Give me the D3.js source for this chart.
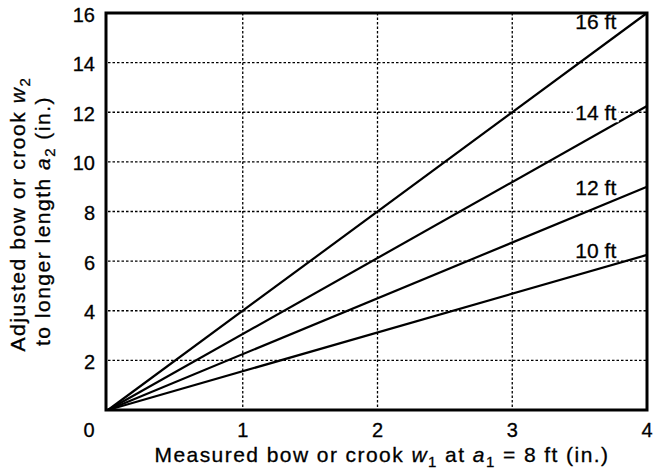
<!DOCTYPE html>
<html>
<head>
<meta charset="utf-8">
<script src="https://cdn.jsdelivr.net/npm/d3@7"></script>
<style>
  body { margin: 0; background: #fff; }
  text { font-family: "Liberation Sans", Arial, sans-serif; fill: #000; stroke: #000; stroke-width: 0.3px; }
</style>
</head>
<body>
<svg id="chart" width="654" height="475"></svg>
<script>
// values
const lengths = ["10 ft", "12 ft", "14 ft", "16 ft"];
const measured = [0, 4];                 // w1 (in.)
const adjusted = {                       // w2 (in.) at w1 = 0 and w1 = 4
  "10 ft": [0, 6.25],
  "12 ft": [0, 9],
  "14 ft": [0, 12.25],
  "16 ft": [0, 16],
};
const labelX = [3.62, 3.62, 3.62, 3.62];
const labelY = [6.42, 8.97, 12.0, 15.65];
const xTicks = [0, 1, 2, 3, 4];
const yTicks = [2, 4, 6, 8, 10, 12, 14, 16];

const svg = d3.select("#chart");
const margin = { top: 13, right: 7, bottom: 65, left: 108 };
const width = 654 - margin.left - margin.right;
const height = 475 - margin.top - margin.bottom;

const x = d3.scaleLinear().domain([0, 4]).range([0, width]);
const y = d3.scaleLinear().domain([0, 16]).range([height, 0]);

// spread text out to the width it has in the picture
function fitWidth(sel, target) {
  sel.each(function () {
    const n = this.textContent.length;
    const w = this.getComputedTextLength();
    d3.select(this).style("letter-spacing", ((target - w) / n) + "px");
  });
}

const g = svg.append("g").attr("transform", `translate(${margin.left},${margin.top})`);

// grid
g.selectAll(".vgrid")
  .data(xTicks.filter(d => d > 0 && d < 4))
  .join("line")
  .attr("x1", d => x(d)).attr("x2", d => x(d))
  .attr("y1", 0).attr("y2", height)
  .attr("stroke", "#000").attr("stroke-width", 1.3)
  .attr("stroke-dasharray", "2.5,2");

g.selectAll(".hgrid")
  .data(yTicks.filter(d => d < 16))
  .join("line")
  .attr("x1", 0).attr("x2", width)
  .attr("y1", d => y(d)).attr("y2", d => y(d))
  .attr("stroke", "#000").attr("stroke-width", 1.3)
  .attr("stroke-dasharray", "2.5,2");

// lines
const line = d3.line().x((d, i) => x(measured[i])).y(d => y(d));
g.selectAll(".series")
  .data(lengths)
  .join("path")
  .attr("d", d => line(adjusted[d]))
  .attr("fill", "none")
  .attr("stroke", "#000")
  .attr("stroke-width", 2.2);

// frame
g.append("rect")
  .attr("x", -2).attr("y", 0)
  .attr("width", width + 2).attr("height", height)
  .attr("fill", "none").attr("stroke", "#000").attr("stroke-width", 3);

// line labels, 14 ft knocks out the grid line
const lab = g.selectAll(".lab")
  .data(lengths)
  .join("g")
  .attr("transform", (d, i) => `translate(${x(labelX[i])},${y(labelY[i])})`);
lab.append("rect")
  .attr("x", -23).attr("y", -10).attr("width", 46).attr("height", 20)
  .attr("fill", "#fff")
  .attr("opacity", (d, i) => i === 2 ? 1 : 0);
lab.append("text")
  .attr("text-anchor", "middle")
  .attr("dy", "0.35em")
  .style("font-size", "21px")
  .text(d => d);

// tick labels
g.selectAll(".xt")
  .data(xTicks)
  .join("text")
  .attr("x", d => d === 0 ? x(d) - 19 : x(d))
  .attr("y", 437 - margin.top)
  .attr("text-anchor", "middle")
  .style("font-size", "20px")
  .text(d => d);

g.selectAll(".yt")
  .data(yTicks)
  .join("text")
  .attr("x", -13)
  .attr("y", d => y(d) + 1.5)
  .attr("dy", "0.35em")
  .attr("text-anchor", "end")
  .style("font-size", "20px")
  .text(d => d);

// x title
const xt = svg.append("text")
  .attr("x", 382)
  .attr("y", 462)
  .attr("text-anchor", "middle")
  .style("font-size", "21px");
xt.append("tspan").text("Measured bow or crook ");
xt.append("tspan").style("font-style", "italic").text("w");
xt.append("tspan").attr("dy", 5).style("font-size", "15px").text("1");
xt.append("tspan").attr("dy", -5).text(" at ");
xt.append("tspan").style("font-style", "italic").text("a");
xt.append("tspan").attr("dy", 5).style("font-size", "15px").text("1");
xt.append("tspan").attr("dy", -5).text(" = 8 ft (in.)");
xt.call(fitWidth, 455);

// y title
const y1 = svg.append("text")
  .attr("transform", "translate(25,214) rotate(-90)")
  .attr("text-anchor", "middle")
  .style("font-size", "21px");
y1.append("tspan").text("Adjusted bow or crook ");
y1.append("tspan").style("font-style", "italic").text("w");
y1.append("tspan").attr("dy", 5).style("font-size", "15px").text("2");
y1.call(fitWidth, 275);

const y2 = svg.append("text")
  .attr("transform", "translate(50,221) rotate(-90)")
  .attr("text-anchor", "middle")
  .style("font-size", "21px");
y2.append("tspan").text("to longer length ");
y2.append("tspan").style("font-style", "italic").text("a");
y2.append("tspan").attr("dy", 5).style("font-size", "15px").text("2");
y2.append("tspan").attr("dy", -5).text(" (in.)");
y2.call(fitWidth, 250);
</script>
</body>
</html>
